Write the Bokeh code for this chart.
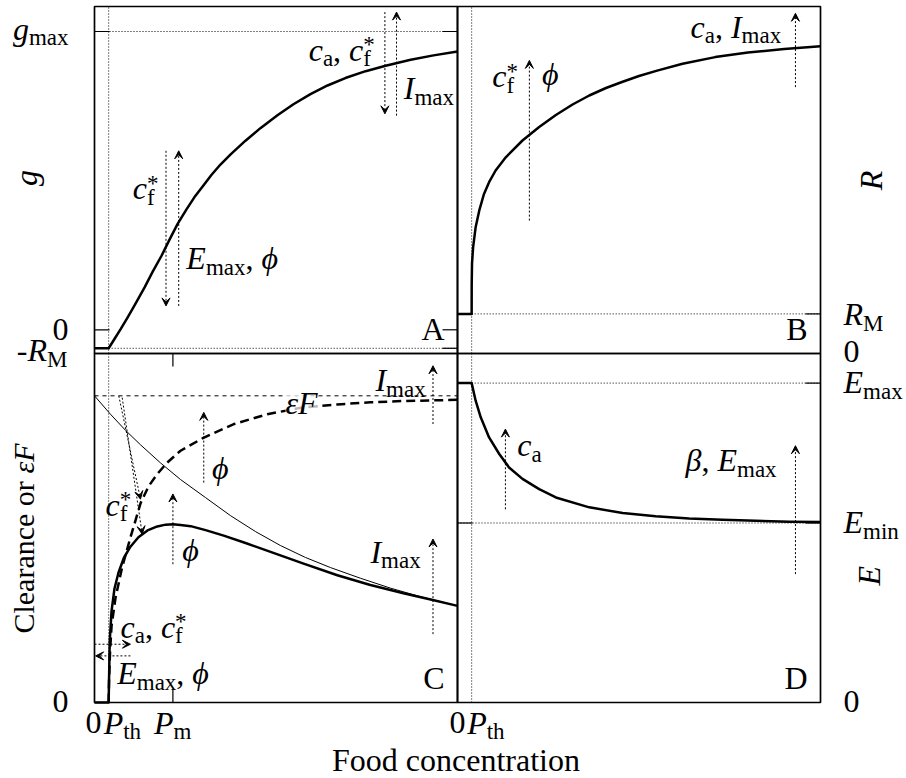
import math

from bokeh.embed import file_html
from bokeh.models import Arrow, Label, Range1d, VeeHead
from bokeh.plotting import figure
from bokeh.resources import INLINE

# ---------------------------------------------------------------- data
# Reference levels, in the axis units of each panel
P_TH = 0.39          # threshold food concentration
P_M = 2.16           # food concentration of maximal clearance
G_MAX = 1.0          # maximal growth rate (panel A)
NEG_R_M = -0.062     # -R_M on the growth axis (panel A)
R_M = 0.132          # maintenance respiration (panel B)
EF_MAX = 1.0         # asymptote of eps*F (panel C)
E_MAX = 1.0          # maximal assimilation efficiency (panel D)
E_MIN = 0.562        # minimal assimilation efficiency (panel D)

# A: growth rate g
food_a = [0.0, 0.39, 0.55, 0.72, 0.91, 1.13, 1.38, 1.6, 1.85, 2.07,
          2.29, 2.53, 2.75, 3.0, 3.22, 3.47, 3.75, 4.16, 4.57, 5.04,
          5.48, 5.95, 6.42, 6.91, 7.47, 8.02, 8.71, 9.34, 10.0]
growth_a = [-0.062, -0.062, -0.031, 0.002, 0.041, 0.088, 0.142, 0.194, 0.249, 0.303,
            0.355, 0.403, 0.444, 0.484, 0.519, 0.554, 0.588, 0.634, 0.676, 0.719,
            0.756, 0.790, 0.819, 0.844, 0.867, 0.885, 0.905, 0.920, 0.933]

# B: respiration R
food_b = [0.0, 0.39, 0.391, 0.40, 0.43, 0.5, 0.6, 0.73, 0.87, 1.05, 1.33, 1.79,
          2.25, 2.71, 3.17, 3.63, 4.09, 4.55, 5.0, 5.5, 6.2, 7.1, 8.0, 9.0, 10.0]
resp_b = [0.132, 0.132, 0.23, 0.30, 0.354, 0.421, 0.477, 0.532, 0.571, 0.61, 0.654, 0.71,
          0.755, 0.795, 0.83, 0.86, 0.885, 0.906, 0.925, 0.943, 0.966, 0.988, 1.003, 1.015, 1.024]

# C: maximal clearance (thin), eps*F (dashed), realised clearance (thick)
food_c_clear = [0.0, 0.44, 0.85, 1.27, 1.82, 2.37, 3.06, 3.75, 4.44, 5.12, 5.81, 6.5,
                7.33, 8.15, 8.98, 10.0]
clear_c = [1.0, 0.94, 0.888, 0.84, 0.781, 0.727, 0.668, 0.609, 0.557, 0.512, 0.473, 0.44,
           0.405, 0.373, 0.345, 0.315]
food_c_ef = [0.39, 0.40, 0.43, 0.47, 0.58, 0.76, 0.99, 1.27, 1.49, 1.73,
             2.0, 2.37, 3.0, 3.84, 4.76, 5.68, 6.69, 7.6, 8.51, 10.0]
ef_c = [0.0, 0.071, 0.169, 0.25, 0.342, 0.44, 0.538, 0.65, 0.705, 0.745,
        0.782, 0.821, 0.863, 0.908, 0.94, 0.961, 0.972, 0.979, 0.983, 0.987]
food_c_real = [0.0, 0.39, 0.40, 0.42, 0.47, 0.55, 0.66, 0.81, 0.99, 1.21,
               1.46, 1.73, 1.96, 2.16, 2.37, 2.65, 3.06, 3.56, 4.16, 4.85,
               5.76, 6.69, 7.6, 8.51, 9.26, 10.0]
real_c = [0.0, 0.0, 0.071, 0.201, 0.299, 0.371, 0.423, 0.472, 0.508, 0.539,
          0.561, 0.574, 0.58, 0.581, 0.579, 0.575, 0.562, 0.544, 0.52, 0.491,
          0.453, 0.415, 0.383, 0.356, 0.336, 0.315]

# D: assimilation efficiency E
food_d = [0.0, 0.39, 0.5, 0.64, 0.87, 1.15, 1.42, 1.79, 2.25, 2.71,
          3.63, 4.55, 5.46, 6.38, 7.3, 8.22, 9.14, 10.0]
eff_d = [1.0, 1.0, 0.945, 0.893, 0.83, 0.778, 0.736, 0.7, 0.668, 0.642,
         0.611, 0.593, 0.583, 0.576, 0.572, 0.569, 0.566, 0.565]

# tick positions
ticks_a_y = [G_MAX, 0.0, NEG_R_M]
ticks_b_y = [R_M]
ticks_c_x = [P_M]
ticks_d_y = [E_MAX, E_MIN]

# ---------------------------------------------------------------- layout
W, H = 906, 778
X_MAX = 10.0
A_LIM = (-0.0795, 1.0838)
B_LIM = (0.0, 1.1567)
C_LIM = (0.0, 1.138)
D_LIM = (0.0, 1.0927)
# pixel extents of the panel columns (from the left) and rows (from the bottom)
COL_L, COL_R = (94, 457), (457, 820)
ROW_UP, ROW_LO = (425, 772), (76, 425)

SERIF = "Liberation Serif"
MAIN = 32
SCRIPT = 23
SUB_DROP = 6
SUP_RISE = 8
MID = 0.3375   # distance from baseline to the middle of the text box, in em


def fit_range(lo, hi, px, total):
    """Range over the whole canvas such that lo..hi spans the pixels px."""
    k = (hi - lo) / (px[1] - px[0])
    return Range1d(lo - px[0] * k, hi + (total - px[1]) * k)


p = figure(width=W, height=H, title=None,
           x_axis_type=None, y_axis_type=None,
           x_range=Range1d(0, 1), y_range=Range1d(0, 1),
           toolbar_location=None, output_backend="svg",
           min_border=0, outline_line_color=None,
           background_fill_color="white", border_fill_color="white")
p.extra_x_ranges = {"xl": fit_range(0, X_MAX, COL_L, W),
                    "xr": fit_range(0, X_MAX, COL_R, W)}
p.extra_y_ranges = {"ya": fit_range(*A_LIM, ROW_UP, H), "yb": fit_range(*B_LIM, ROW_UP, H),
                    "yc": fit_range(*C_LIM, ROW_LO, H), "yd": fit_range(*D_LIM, ROW_LO, H)}

PANELS = {"A": ("xl", "ya", A_LIM), "B": ("xr", "yb", B_LIM),
          "C": ("xl", "yc", C_LIM), "D": ("xr", "yd", D_LIM)}

# ---------------------------------------------------------------- text helpers
ROMAN = {"a": 444, "c": 444, "d": 500, "e": 444, "f": 333, "h": 500, "i": 278,
         "l": 278, "m": 778, "n": 500, "o": 500, "r": 333, "t": 278, "x": 500,
         "A": 722, "B": 667, "C": 667, "D": 722, "F": 556, "M": 889,
         "0": 500, " ": 250, ",": 250, "-": 333, "*": 500}
ITALIC = {"c": 444, "g": 500, "E": 611, "F": 611, "I": 333, "P": 611, "R": 611,
          "ε": 440, "β": 500, "ϕ": 560}


def advance(s, italic, size):
    table = ITALIC if italic else ROMAN
    return sum(table.get(ch, 500) for ch in s) / 1000.0 * size


def label(panel, x, y, text, size=MAIN, italic=False, dx=0.0, dy=0.0,
          align="left", on_baseline=True, angle=0.0, bg=False):
    """Place text; with on_baseline the (x, y) point marks the text baseline."""
    xr, yr, _ = PANELS[panel]
    if on_baseline:
        dy += MID * size
    kw = {}
    if bg:
        kw = dict(background_fill_color="white", background_fill_alpha=0.72)
    p.add_layout(Label(x=x, y=y, x_range_name=xr, y_range_name=yr,
                       x_offset=dx, y_offset=dy, text=text, angle=angle,
                       text_font=SERIF, text_font_size=f"{size}px",
                       text_font_style="italic" if italic else "normal",
                       text_color="black", text_align=align,
                       text_baseline="middle", **kw))


def math_label(panel, x, y, parts, dx=0.0, dy=0.0, align="left", bg=False):
    """Lay out italic symbols with upright sub/superscripts from left to right."""
    pieces, cur = [], 0.0
    for text, kind in parts:
        if kind == "subsup":
            sub, sup = text
            pieces.append((sub, False, SCRIPT, cur, -SUB_DROP))
            pieces.append((sup, False, SCRIPT, cur, SUP_RISE))
            cur += max(advance(sub, False, SCRIPT), advance(sup, False, SCRIPT))
        elif kind == "sub":
            pieces.append((text, False, SCRIPT, cur, -SUB_DROP))
            cur += advance(text, False, SCRIPT)
        else:
            it = kind == "i"
            pieces.append((text, it, MAIN, cur, 0))
            cur += advance(text, it, MAIN)
    shift = {"left": 0.0, "center": -cur / 2.0, "right": -cur}[align]
    for text, it, size, off, rise in pieces:
        label(panel, x, y, text, size=size, italic=it,
              dx=dx + shift + off, dy=dy + rise, bg=bg)


CF = [("c", "i"), (("f", "*"), "subsup")]
CA = [("c", "i"), ("a", "sub")]
SEP = [(", ", "r")]
EMAX = [("E", "i"), ("max", "sub")]
IMAX = [("I", "i"), ("max", "sub")]
PHI = [("ϕ", "i")]

# ---------------------------------------------------------------- line helpers
DOT = "1 2"
ARROW_DASH = "2 2"


def seg(panel, x0, y0, x1, y1, dash=DOT, width=1.0):
    xr, yr, _ = PANELS[panel]
    p.segment(x0=[x0], y0=[y0], x1=[x1], y1=[y1], x_range_name=xr, y_range_name=yr,
              line_color="black", line_width=width, line_dash=dash)


def arrow(panel, x0, y0, x1, y1):
    xr, yr, _ = PANELS[panel]
    p.add_layout(Arrow(x_start=x0, y_start=y0, x_end=x1, y_end=y1,
                       x_range_name=xr, y_range_name=yr,
                       line_color="black", line_width=1, line_dash=ARROW_DASH,
                       end=VeeHead(size=8, fill_color="black",
                                   line_color="black", line_width=1)))


def ticks(panel, xs, ys, angle, length=15):
    xr, yr, _ = PANELS[panel]
    p.ray(x=xs, y=ys, length=length, length_units="screen", angle=angle,
          x_range_name=xr, y_range_name=yr, line_color="black", line_width=1.2)


def curve(panel, xs, ys, width=2.5, dash="solid"):
    xr, yr, _ = PANELS[panel]
    p.line(xs, ys, x_range_name=xr, y_range_name=yr, line_color="black",
           line_width=width, line_dash=dash, line_join="round")


def box(panel):
    xr, yr, (lo, hi) = PANELS[panel]
    p.quad(left=[0], right=[X_MAX], bottom=[lo], top=[hi],
           x_range_name=xr, y_range_name=yr, fill_color=None,
           line_color="black", line_width=1.7)


# ---------------------------------------------------------------- panel A
seg("A", P_TH, A_LIM[0], P_TH, A_LIM[1])
seg("A", 0, G_MAX, X_MAX, G_MAX)
seg("A", P_TH, NEG_R_M, X_MAX, NEG_R_M)
ticks("A", [0] * len(ticks_a_y), ticks_a_y, 0)
ticks("A", [X_MAX] * len(ticks_a_y), ticks_a_y, math.pi)
curve("A", food_a, growth_a)

arrow("A", 1.97, 0.60, 1.97, 0.08)
arrow("A", 2.32, 0.08, 2.32, 0.60)
arrow("A", 8.0, 1.065, 8.0, 0.724)
arrow("A", 8.32, 0.718, 8.32, 1.065)

math_label("A", 1.055, 0.439, CF)
math_label("A", 2.53, 0.2045, EMAX + SEP + PHI)
math_label("A", 5.9, 0.903, CA + SEP + CF)
math_label("A", 8.52, 0.774, IMAX)

# ---------------------------------------------------------------- panel B
seg("B", P_TH, B_LIM[0], P_TH, B_LIM[1])
seg("B", P_TH, R_M, X_MAX, R_M)
ticks("B", [0] * len(ticks_b_y), ticks_b_y, 0)
ticks("B", [X_MAX] * len(ticks_b_y), ticks_b_y, math.pi)
curve("B", food_b, resp_b)

arrow("B", 1.98, 0.443, 1.98, 0.977)
arrow("B", 9.31, 0.888, 9.31, 1.134)

math_label("B", 0.956, 0.888, CF)
math_label("B", 2.33, 0.897, PHI)
math_label("B", 6.42, 1.054, CA + SEP + IMAX)

# ---------------------------------------------------------------- panel C
seg("C", P_TH, C_LIM[0], P_TH, C_LIM[1])
seg("C", 0, EF_MAX, X_MAX, EF_MAX, dash="4 4")
ticks("C", ticks_c_x, [C_LIM[1]] * len(ticks_c_x), -math.pi / 2, length=13)
ticks("C", ticks_c_x, [0] * len(ticks_c_x), math.pi / 2, length=13)
curve("C", food_c_clear, clear_c, width=1.0)
curve("C", food_c_ef, ef_c, width=2.5, dash="9 5")
curve("C", food_c_real, real_c, width=2.5)

arrow("C", 9.325, 0.908, 9.325, 1.098)
arrow("C", 9.325, 0.223, 9.325, 0.533)
arrow("C", 3.01, 0.717, 3.01, 0.946)
arrow("C", P_M, 0.451, P_M, 0.68)
arrow("C", 0.669, 1.0, 1.267, 0.663)
arrow("C", 0.763, 0.994, 1.314, 0.549)
arrow("C", 0.0, 0.19, 0.99, 0.19)
arrow("C", 0.99, 0.152, 0.03, 0.152)

math_label("C", 7.74, 1.016, IMAX)
math_label("C", 7.6, 0.456, IMAX)
math_label("C", 5.26, 0.94, [("εF", "i")], bg=True)
math_label("C", 3.24, 0.729, PHI)
math_label("C", 2.416, 0.462, PHI)
math_label("C", 0.303, 0.609, CF)
math_label("C", 0.716, 0.212, CA + SEP + CF)
math_label("C", 0.625, 0.06, EMAX + SEP + PHI)

# ---------------------------------------------------------------- panel D
seg("D", P_TH, D_LIM[0], P_TH, D_LIM[1])
seg("D", P_TH, E_MAX, X_MAX, E_MAX)
seg("D", 0, E_MIN, X_MAX, E_MIN)
ticks("D", [0] * len(ticks_d_y), ticks_d_y, 0)
ticks("D", [X_MAX] * len(ticks_d_y), ticks_d_y, math.pi)
curve("D", food_d, eff_d)

arrow("D", 1.32, 0.605, 1.32, 0.856)
arrow("D", 9.31, 0.402, 9.31, 0.804)

math_label("D", 1.645, 0.772, CA)
math_label("D", 6.28, 0.725, [("β", "i")] + SEP + EMAX)

# ---------------------------------------------------------------- frames and letters
for name in "ABCD":
    box(name)
    lo = PANELS[name][2][0]
    math_label(name, X_MAX, lo, [(name, "r")], dx=-13, dy=14, align="right")

# ---------------------------------------------------------------- tick labels
math_label("A", 0, G_MAX, [("g", "i"), ("max", "sub")], dx=-26, dy=-8, align="right")
math_label("A", 0, 0.0, [("0", "r")], dx=-26, dy=-10.5, align="right")
math_label("A", 0, NEG_R_M, [("-", "r"), ("R", "i"), ("M", "sub")], dx=-27, dy=-13, align="right")
math_label("B", X_MAX, R_M, [("R", "i"), ("M", "sub")], dx=23, dy=-11)
math_label("B", X_MAX, 0.0, [("0", "r")], dx=23, dy=-9)
math_label("C", 0, 0.0, [("0", "r")], dx=-26, dy=-10, align="right")
math_label("C", 0, 0.0, [("0", "r")], dx=-1, dy=-31, align="center")
math_label("C", P_TH, 0.0, [("P", "i"), ("th", "sub")], dx=-5, dy=-31)
math_label("C", P_M, 0.0, [("P", "i"), ("m", "sub")], dx=-19, dy=-31)
math_label("D", 0, 0.0, [("0", "r")], dx=0, dy=-31, align="center")
math_label("D", P_TH, 0.0, [("P", "i"), ("th", "sub")], dx=-4.5, dy=-31)
math_label("D", X_MAX, E_MAX, EMAX, dx=23, dy=-10)
math_label("D", X_MAX, E_MIN, [("E", "i"), ("min", "sub")], dx=23, dy=-10)
math_label("D", X_MAX, 0.0, [("0", "r")], dx=23, dy=-10)

# ---------------------------------------------------------------- axis titles
UP = math.pi / 2
label("A", 0, 0.509, "g", italic=True, dx=-69, align="center", on_baseline=False, angle=UP)
label("B", X_MAX, 0.577, "R", italic=True, dx=50, align="center", on_baseline=False, angle=UP)
label("D", X_MAX, 0.397, "E", italic=True, dx=48, align="center", on_baseline=False, angle=UP)

clear_txt = "Clearance or "
w_clear = advance(clear_txt, False, 30)
w_ef = advance("εF", True, 30)
start = -(w_clear + w_ef) / 2.0
# rotated text: the middle of the text box sits MID em to the left of the baseline
label("C", 0, 0.537, clear_txt, size=30, dx=-60.7 - MID * 30, dy=start,
      on_baseline=False, angle=UP)
label("C", 0, 0.537, "εF", size=30, italic=True, dx=-60.7 - MID * 30, dy=start + w_clear,
      on_baseline=False, angle=UP)

label("C", X_MAX, 0.0, "Food concentration", dx=-1.5, dy=-68.7, align="center")

open("out.html", "w").write(file_html(p, INLINE))
